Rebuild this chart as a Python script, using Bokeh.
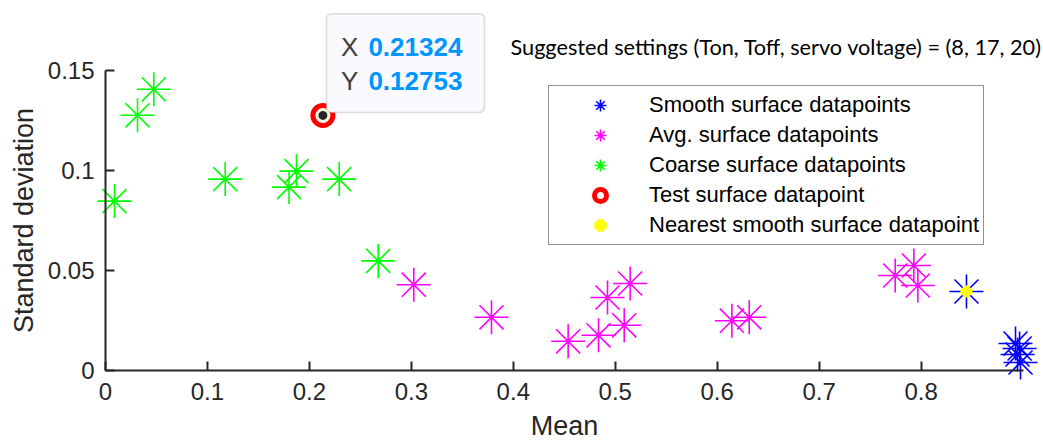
from bokeh.plotting import figure
from bokeh.models import (Range1d, FixedTicker, Legend, LegendItem, Label,
                          BoxAnnotation)
from bokeh.embed import file_html
from bokeh.resources import INLINE

# ---------------- data ----------------
coarse_x = [0.0088, 0.0314, 0.0474, 0.1174, 0.1800, 0.1873, 0.2292, 0.2675]
coarse_y = [0.0847, 0.1276, 0.1406, 0.0957, 0.0917, 0.0997, 0.0957, 0.0548]

avg_x = [0.3024, 0.3786, 0.4538, 0.4836, 0.4924, 0.5088, 0.5146, 0.6144,
         0.6314, 0.7746, 0.7929, 0.7968]
avg_y = [0.0429, 0.0266, 0.0146, 0.0176, 0.0365, 0.0226, 0.0435, 0.0249,
         0.0266, 0.0475, 0.0525, 0.0425]

smooth_x = [0.8445, 0.8926, 0.8966, 0.8946, 0.8975]
smooth_y = [0.0395, 0.0135, 0.0110, 0.0080, 0.0040]

nearest_x = [0.8445]
nearest_y = [0.0395]

test_x = [0.21324]
test_y = [0.12753]

x_ticks = [0, 0.1, 0.2, 0.3, 0.4, 0.5, 0.6, 0.7, 0.8]
x_tick_labels = ["0", "0.1", "0.2", "0.3", "0.4", "0.5", "0.6", "0.7", "0.8"]
y_ticks = [0, 0.05, 0.1, 0.15]
y_tick_labels = ["0", "0.05", "0.1", "0.15"]

x_limits = (0, 0.9)
y_limits = (0, 0.15)

suggest_text = "Suggested settings (Ton, Toff, servo voltage) = (8, 17, 20)"

# ---------------- layout ----------------
W, H = 1043, 444
X0_PX, Y0_PX = 105.0, 370.0    # pixel position of data origin
SX, SY = 1019.5, 2000.0        # pixels per data unit

x_start = -X0_PX / SX
y_start = -(H - Y0_PX) / SY

def px_x(px):
    return (px - X0_PX) / SX

def px_y(py):
    return (Y0_PX - py) / SY

FONT = "Liberation Sans"
AX = "#262626"

p = figure(width=W, height=H, output_backend="svg", toolbar_location=None,
           x_range=Range1d(x_start, x_start + W / SX),
           y_range=Range1d(y_start, y_start + H / SY),
           min_border=0, min_border_left=0, min_border_right=0,
           min_border_top=0, min_border_bottom=0)
p.outline_line_color = None
p.grid.visible = False
p.background_fill_color = "white"
p.border_fill_color = "white"

for ax, ticks, labels, bounds in ((p.xaxis[0], x_ticks, x_tick_labels, x_limits),
                                  (p.yaxis[0], y_ticks, y_tick_labels, y_limits)):
    ax.fixed_location = 0
    ax.bounds = bounds
    ax.ticker = FixedTicker(ticks=ticks)
    ax.major_label_overrides = {t: l for t, l in zip(ticks, labels)}
    ax.minor_tick_line_color = None
    ax.major_tick_in = 9
    ax.major_tick_out = 0
    ax.axis_line_color = AX
    ax.axis_line_width = 2
    ax.major_tick_line_color = AX
    ax.major_tick_line_width = 2
    ax.major_label_text_font = FONT
    ax.major_label_text_font_size = "24px"
    ax.major_label_text_color = AX
    ax.axis_label_text_font = FONT
    ax.axis_label_text_font_size = "27px"
    ax.axis_label_text_font_style = "normal"
    ax.axis_label_text_color = AX

p.xaxis.axis_label = "Mean"
p.yaxis.axis_label = "Standard deviation"
p.xaxis.major_label_standoff = 12
p.yaxis.major_label_standoff = 11
p.xaxis.axis_label_standoff = 8
p.yaxis.axis_label_standoff = 6

STAR = 34
r_coarse = p.scatter(coarse_x, coarse_y, marker="asterisk", size=STAR,
                     line_color="#00FF00", line_width=1.6)
r_avg = p.scatter(avg_x, avg_y, marker="asterisk", size=STAR,
                  line_color="#FF00FF", line_width=1.6)
r_smooth = p.scatter(smooth_x, smooth_y, marker="asterisk", size=STAR,
                     line_color="#0000FF", line_width=1.6)
r_near = p.scatter(nearest_x, nearest_y, marker="x", size=11,
                   line_color="#FFFF00", line_width=8)
r_test = p.scatter(test_x, test_y, marker="circle", size=20,
                   fill_color="#FFFFFF", line_color="#FF0000", line_width=5)
# data-tip marker on the test point
p.scatter(test_x, test_y, marker="circle", size=11,
          fill_color="#262626", line_color="#FFF6D8", line_width=2)

# ---------------- data tip ----------------
tx, ty = test_x[0], test_y[0]
box = BoxAnnotation(left=tx + 3.6 / SX, right=tx + 161.6 / SX,
                    bottom=ty + 2.9 / SY, top=ty + 101.6 / SY,
                    fill_color="#F9F9FE", fill_alpha=1.0,
                    line_color="#8A8A8A", line_width=1.5, border_radius=5)
p.add_layout(box)
for lab, val, dy in (("X", tx, 68.8), ("Y", ty, 34.4)):
    p.add_layout(Label(x=tx, y=ty, x_offset=18, y_offset=dy, text=lab,
                       text_font=FONT, text_font_size="26px",
                       text_color="#404040", text_baseline="middle"))
    p.add_layout(Label(x=tx, y=ty, x_offset=45.5, y_offset=dy,
                       text=f"{val:.5f}", text_font=FONT,
                       text_font_size="26px", text_font_style="bold",
                       text_color="#0096FF", text_baseline="middle"))

# ---------------- annotation text ----------------
p.add_layout(Label(x=px_x(510), y=px_y(46), text=suggest_text,
                   text_font="Lato", text_font_size="21.7px",
                   text_color="#000000", text_baseline="middle"))

# ---------------- legend ----------------
legend = Legend(items=[
    LegendItem(label="Smooth surface datapoints", renderers=[r_smooth]),
    LegendItem(label="Avg. surface datapoints", renderers=[r_avg]),
    LegendItem(label="Coarse surface datapoints", renderers=[r_coarse]),
    LegendItem(label="Test surface datapoint", renderers=[r_test]),
    LegendItem(label="Nearest smooth surface datapoint", renderers=[r_near]),
], location=(548, 199))
legend.label_text_font = FONT
legend.label_text_font_size = "22px"
legend.label_text_color = "#000000"
legend.glyph_width = 94
legend.glyph_height = 30
legend.label_height = 30
legend.label_standoff = 2
legend.spacing = 0
legend.padding = 4
legend.margin = 0
legend.border_line_color = AX
legend.border_line_width = 1.5
legend.background_fill_color = "white"
legend.background_fill_alpha = 1.0
p.add_layout(legend)

open("out.html", "w").write(file_html(p, INLINE))
